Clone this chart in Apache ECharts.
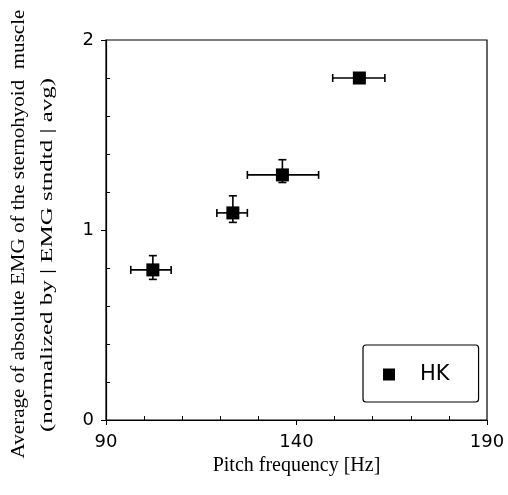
<!DOCTYPE html>
<html><head><meta charset="utf-8">
<script src="https://cdn.jsdelivr.net/npm/echarts@6/dist/echarts.min.js"></script>
<style>html,body{margin:0;padding:0;background:#fff}#c{width:508px;height:495px}</style>
</head><body><div id="c"></div>
<script>
const seriesName = 'HK';
const pitchHz = [102.3, 123.3, 136.3, 156.5];
const emgAvg = [0.79, 1.09, 1.29, 1.80];
const pitchLow = [96.5, 119.1, 127.1, 149.5];
const pitchHigh = [107.1, 127.1, 145.8, 163.2];
const emgLow = [0.74, 1.04, 1.25, 1.78];
const emgHigh = [0.865, 1.18, 1.37, 1.82];
const xTicks = [90, 140, 190];
const yTicks = [0, 1, 2];
const yTitle1 = 'Average of absolute EMG of the sternohyoid  muscle';
const yTitle2 = '(normalized by | EMG stndtd | avg)';
const xTitle = 'Pitch frequency [Hz]';

const chart = echarts.init(document.getElementById('c'));
const pts = pitchHz.map((x, i) => [x, emgAvg[i]]);
const errs = pitchHz.map((x, i) => [x, emgAvg[i], pitchLow[i], pitchHigh[i], emgLow[i], emgHigh[i]]);

chart.setOption({
  animation: false,
  backgroundColor: '#fff',
  grid: {left: 106, right: 21, top: 40, bottom: 75, show: true, borderColor: '#000', borderWidth: 1.2, backgroundColor: 'transparent', containLabel: false, outerBoundsMode: 'none'},
  graphic: [
    {type: 'text', x: 19, y: 234, rotation: Math.PI / 2, scaleX: 1.17, silent: true,
     style: {text: yTitle1, font: '18px "Liberation Serif"', fill: '#000', textAlign: 'center', textVerticalAlign: 'middle'}},
    {type: 'text', x: 48, y: 255, rotation: Math.PI / 2, scaleX: 1.47, silent: true,
     style: {text: yTitle2, font: '17px "Liberation Serif"', fill: '#000', textAlign: 'center', textVerticalAlign: 'middle'}}
  ],
  legend: {
    left: 363, top: 345, orient: 'vertical',
    data: [{name: seriesName, icon: 'rect'}],
    itemWidth: 12, itemHeight: 12,
    padding: [19, 29, 17, 20],
    borderColor: '#000', borderWidth: 1.2, borderRadius: 3,
    textStyle: {fontFamily: 'DejaVu Sans', fontSize: 21, color: '#000', padding: [0, 0, 0, 20]}
  },
  xAxis: {
    type: 'value', min: xTicks[0], max: xTicks[xTicks.length - 1], interval: 50,
    name: xTitle, nameLocation: 'middle', nameGap: 29,
    nameTextStyle: {fontFamily: 'Liberation Serif', fontSize: 20, color: '#000'},
    axisLine: {lineStyle: {color: '#000', width: 1.2}},
    axisTick: {length: 5, lineStyle: {color: '#000'}},
    minorTick: {show: true, splitNumber: 5, length: -4, lineStyle: {color: '#000'}},
    splitLine: {show: false},
    axisLabel: {fontFamily: 'DejaVu Sans', fontSize: 18, color: '#000', margin: 13}
  },
  yAxis: {
    type: 'value', min: yTicks[0], max: yTicks[yTicks.length - 1], interval: 1,
    axisLine: {lineStyle: {color: '#000', width: 1.2}},
    axisTick: {length: 5, lineStyle: {color: '#000'}},
    minorTick: {show: true, splitNumber: 5, length: -4, lineStyle: {color: '#000'}},
    splitLine: {show: false},
    axisLabel: {fontFamily: 'DejaVu Sans', fontSize: 18, color: '#000', margin: 12}
  },
  series: [
    {
      type: 'custom', name: 'err', silent: true, data: errs, z: 2,
      renderItem: function (params, api) {
        const x = api.value(0), y = api.value(1);
        const xl = api.coord([api.value(2), y]), xh = api.coord([api.value(3), y]);
        const yl = api.coord([x, api.value(4)]), yh = api.coord([x, api.value(5)]);
        const c = 4, st = {stroke: '#000', lineWidth: 1.6};
        return {type: 'group', children: [
          {type: 'line', shape: {x1: xl[0], y1: xl[1], x2: xh[0], y2: xh[1]}, style: st},
          {type: 'line', shape: {x1: xl[0], y1: xl[1] - c, x2: xl[0], y2: xl[1] + c}, style: st},
          {type: 'line', shape: {x1: xh[0], y1: xh[1] - c, x2: xh[0], y2: xh[1] + c}, style: st},
          {type: 'line', shape: {x1: yl[0], y1: yl[1], x2: yh[0], y2: yh[1]}, style: st},
          {type: 'line', shape: {x1: yl[0] - c, y1: yl[1], x2: yl[0] + c, y2: yl[1]}, style: st},
          {type: 'line', shape: {x1: yh[0] - c, y1: yh[1], x2: yh[0] + c, y2: yh[1]}, style: st}
        ]};
      }
    },
    {
      type: 'scatter', name: seriesName, data: pts, symbol: 'rect', symbolSize: 13, z: 3,
      itemStyle: {color: '#000', opacity: 1}
    }
  ]
});
</script></body></html>
